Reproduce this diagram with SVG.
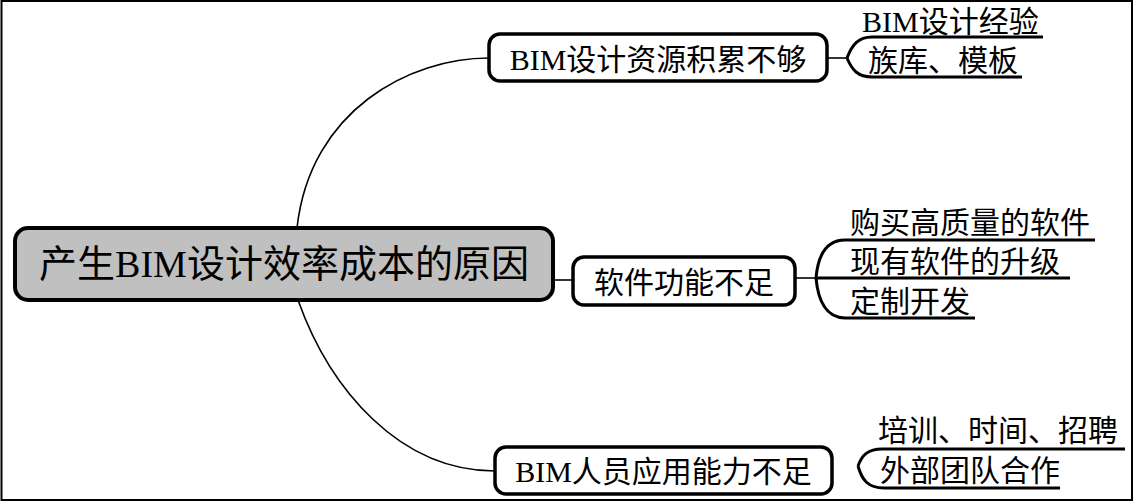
<svg xmlns="http://www.w3.org/2000/svg" width="1134" height="502" viewBox="0 0 1134 502">
<style>
.t{font-family:"Liberation Serif","Noto Sans CJK SC",serif;font-size:30px;fill:#000}
.m{font-size:38px}
.box{fill:#fff;stroke:#000;stroke-width:3.5}
.root{fill:#c0c0c0;stroke:#000;stroke-width:4}
.c{fill:none;stroke:#000;stroke-width:1.6}
.b{fill:none;stroke:#000;stroke-width:3}
</style>
<rect x="1.5" y="1" width="1130.5" height="499" fill="#fff" stroke="#000" stroke-width="2"/>
<g id="connectors">
<path class="c" d="M297,228 C310,110 410,58 489,58"/>
<path class="c" d="M298,300 C330,390 400,471 495,471"/>
<path class="c" d="M553,280 L573,280"/>
<path class="c" d="M827,58 L847,58"/>
<path class="c" d="M795,278 L816,278"/>
</g>
<g id="root">
<rect class="root" x="15" y="228" width="538" height="72" rx="13"/>
<text class="t m" x="284" y="277" text-anchor="middle">产生BIM设计效率成本的原因</text>
</g>
<g id="n1">
<rect class="box" x="489" y="34" width="338" height="47" rx="11"/>
<text class="t" x="658" y="70" text-anchor="middle">BIM设计资源积累不够</text>
</g>
<g id="n1-leaves">
<path class="b" d="M847,58 C852,45 858,37 872,37 L1043,37"/>
<path class="b" d="M847,58 C852,70 858,77 872,77 L1022,77"/>
<text class="t" x="862" y="32">BIM设计经验</text>
<text class="t" x="868" y="71">族库、模板</text>
</g>
<g id="n2">
<rect class="box" x="573" y="257" width="222" height="48" rx="11"/>
<text class="t" x="684" y="293" text-anchor="middle">软件功能不足</text>
</g>
<g id="n2-leaves">
<path class="b" d="M816,278 C818,255 826,240 845,240 L1095,240"/>
<path class="b" d="M816,278 L1070,278"/>
<path class="b" d="M816,278 C818,300 826,318 845,318 L975,318"/>
<text class="t" x="850" y="233">购买高质量的软件</text>
<text class="t" x="850" y="272">现有软件的升级</text>
<text class="t" x="850" y="312">定制开发</text>
</g>
<g id="n3">
<rect class="box" x="495" y="447" width="337" height="47" rx="11"/>
<text class="t" x="663.5" y="482" text-anchor="middle">BIM人员应用能力不足</text>
</g>
<g id="n3-leaves">
<path class="b" d="M858,466 C862,455 868,449 882,449 L1125,449"/>
<path class="b" d="M858,466 C862,480 868,488 884,488 L1060,488"/>
<text class="t" x="878" y="441">培训、时间、招聘</text>
<text class="t" x="880" y="481">外部团队合作</text>
</g>
</svg>
